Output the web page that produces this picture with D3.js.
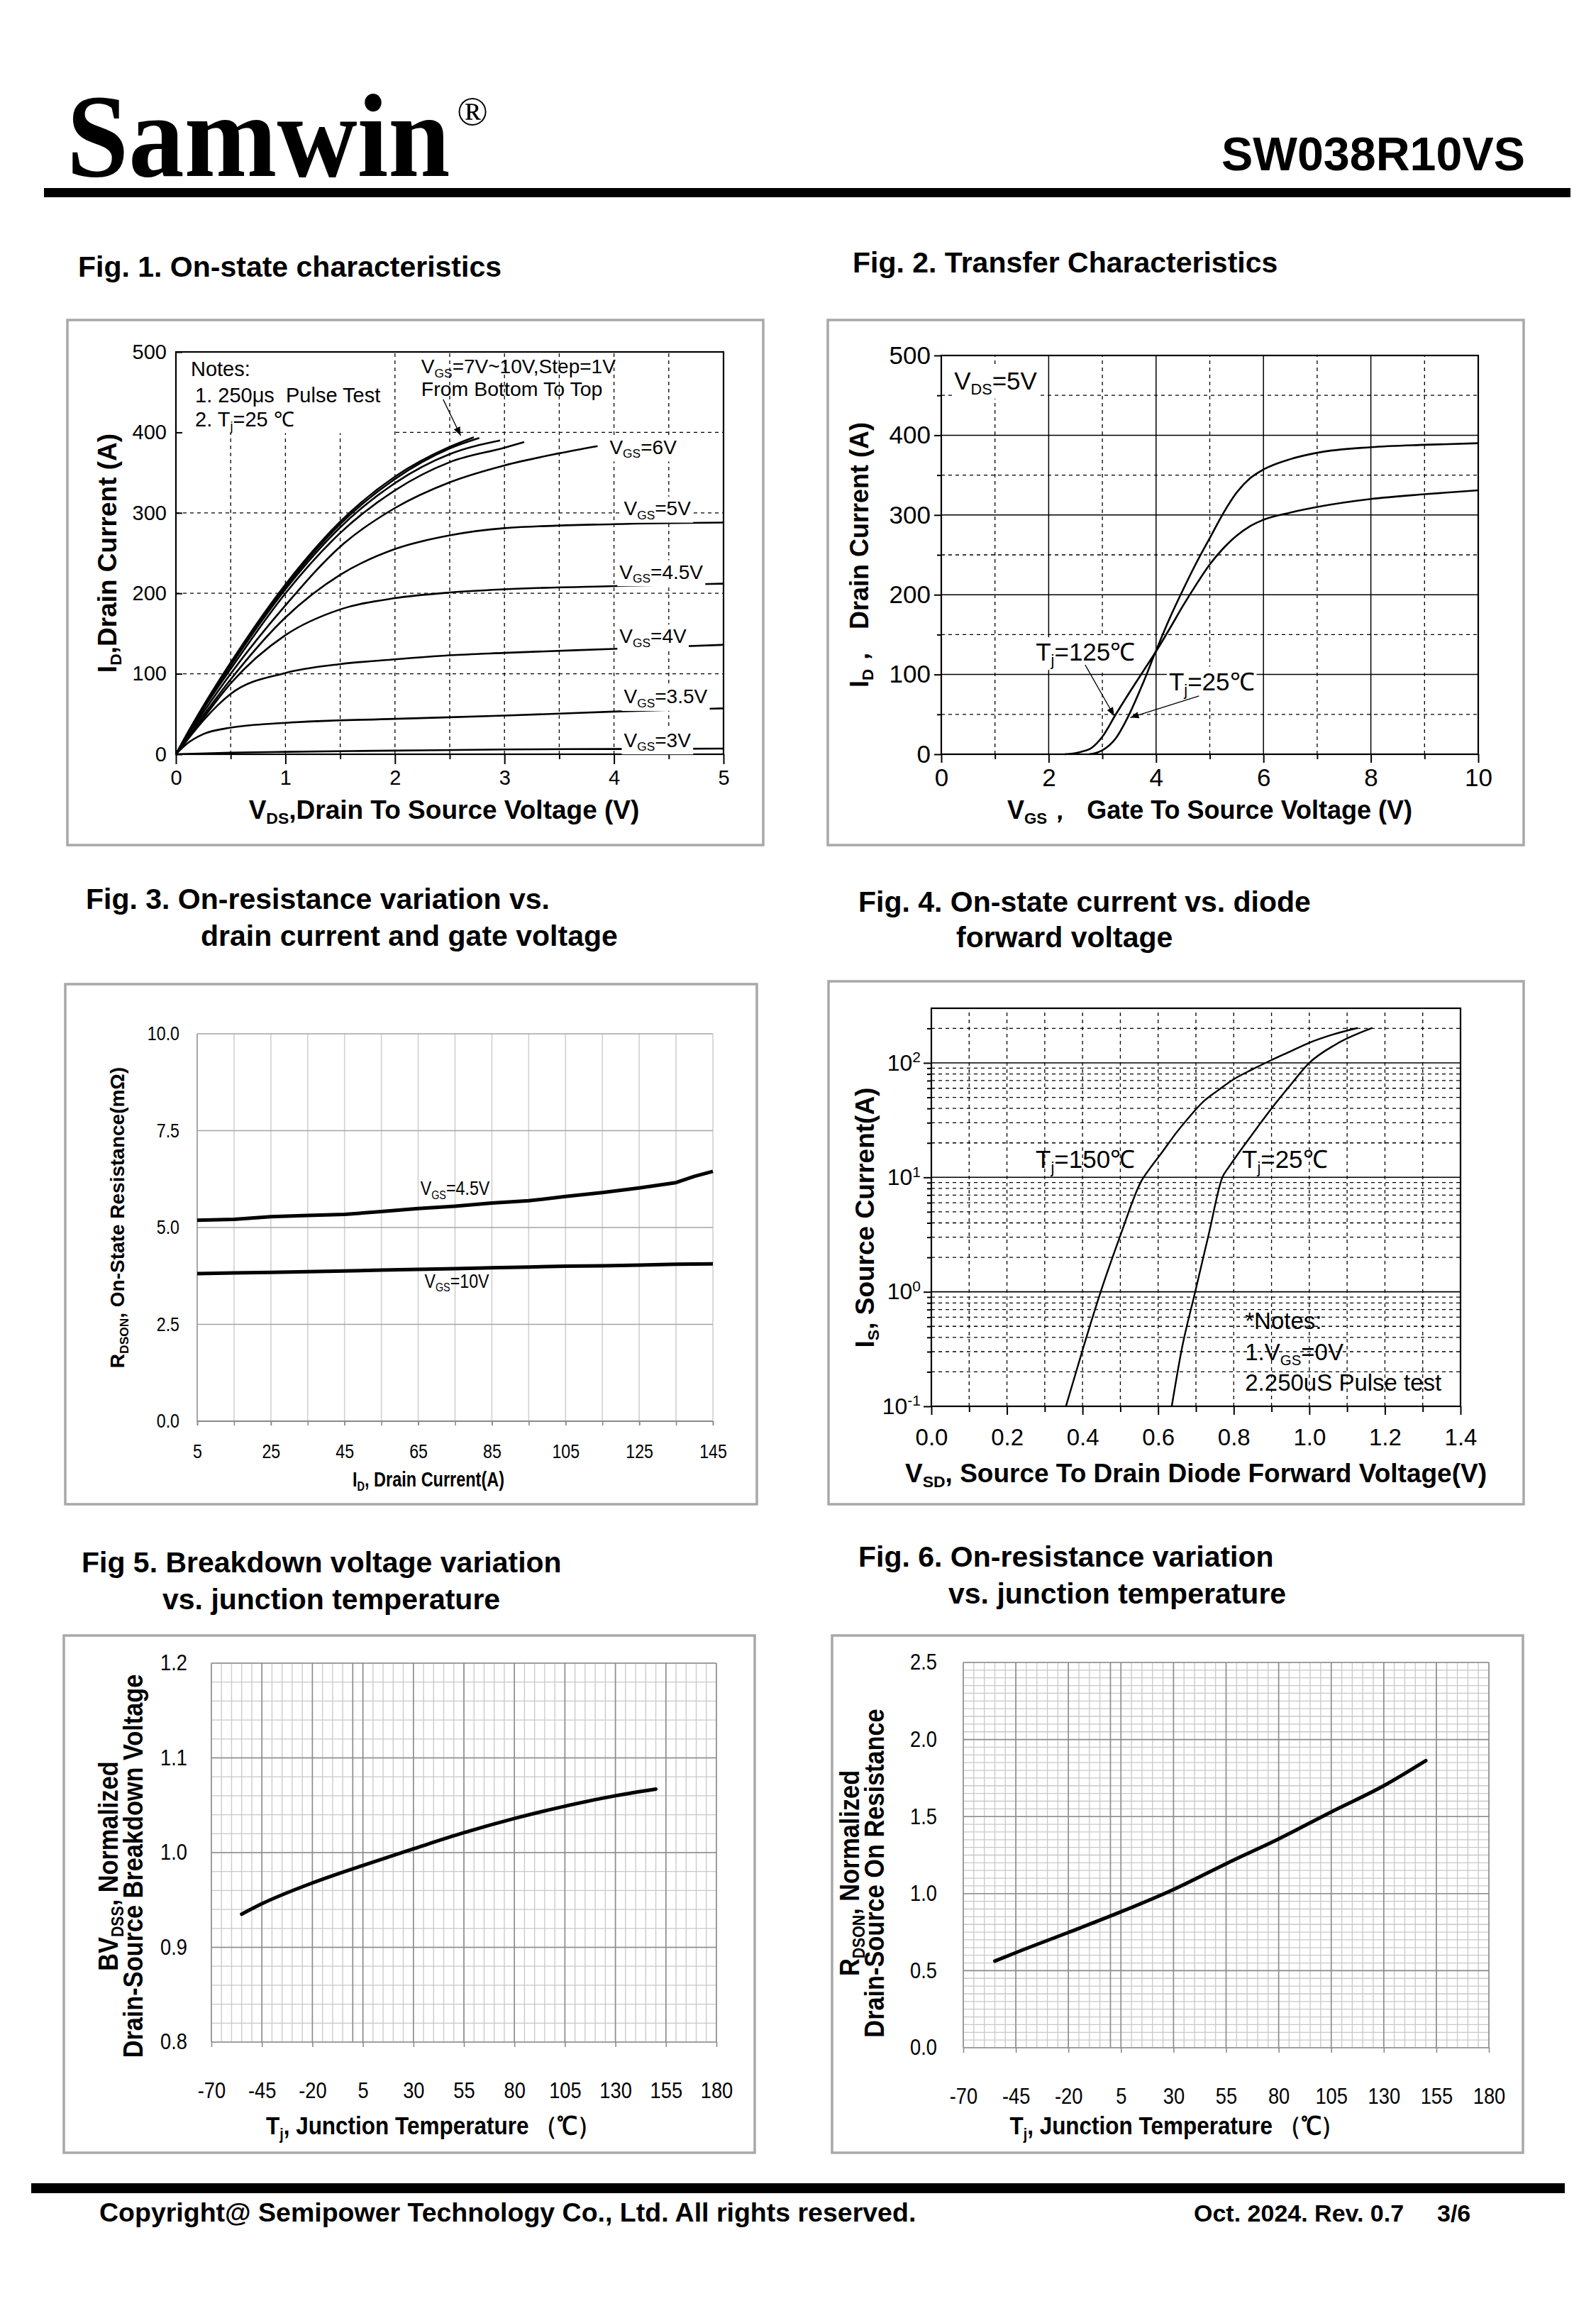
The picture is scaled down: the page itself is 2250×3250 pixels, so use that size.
<!DOCTYPE html>
<html>
<head>
<meta charset="utf-8">
<script src="https://cdn.jsdelivr.net/npm/d3@7/dist/d3.min.js"></script>
<style>
  body { margin: 0; background: #fff; }
  svg text { white-space: pre; }
</style>
</head>
<body>
<svg id="page" width="2250" height="3250"></svg>
<script>
const SANS = "'Liberation Sans', Arial, sans-serif";
const SERIF = "'Liberation Serif', 'Times New Roman', serif";

// Fig 1 - on-state characteristics, [Vds (V), Id (A)]
const fig1Vgs3 = [[0,0],[0.5,2],[1,3],[2,4.5],[3,6],[4,6.5],[5,7]];
const fig1Vgs35 = [[0,0],[0.1,13],[0.25,25],[0.5,33],[1,39],[2,44],[3,48],[4,53],[5,57]];
const fig1Vgs4 = [[0,0],[0.1,17],[0.25,42],[0.5,75],[1,101],[1.5,112],[2,118],[2.5,123],[3,126],[4,131],[5,136]];
const fig1Vgs45 = [[0,0],[0.1,19],[0.25,45],[0.5,88],[1,148],[1.5,180],[2,194],[2.5,201],[3,205],[4,209],[5,212]];
const fig1Vgs5 = [[0,0],[0.1,20],[0.25,48],[0.5,93],[1,170],[1.5,223],[2,255],[2.5,272],[3,281],[4,286],[5,288]];
const fig1Vgs6 = [[0,0],[0.1,22],[0.25,52],[0.5,100],[1,185],[1.5,258],[2,306],[2.5,338],[3,359],[3.5,374],[3.85,383]];
const fig1Vgs7 = [[0,0],[0.1,23],[0.25,56],[0.5,106],[1,200],[1.5,275],[2,328],[2.5,363],[3,381],[3.18,388]];
const fig1Vgs8 = [[0,0],[0.1,24],[0.25,58],[0.5,110],[1,205],[1.5,282],[2,337],[2.5,373],[2.96,390]];
const fig1Vgs9 = [[0,0],[0.1,24],[0.25,59],[0.5,112],[1,208],[1.5,286],[2,342],[2.5,380],[2.77,393]];
const fig1Vgs10 = [[0,0],[0.1,25],[0.25,60],[0.5,114],[1,211],[1.5,289],[2,345],[2.5,382],[2.72,394]];
const fig1XTicks = [0, 1, 2, 3, 4, 5];
const fig1YTicks = [0, 100, 200, 300, 400, 500];

// Fig 2 - transfer characteristics, [Vgs (V), Id (A)]
const fig2Tj25 = [[2.75,0],[2.9,2],[3,5],[3.25,20],[3.5,50],[3.75,88],[4,130],[4.25,170],[4.5,206],[4.75,240],[5,271],[5.25,302],[5.5,328],[5.75,346],[6,357],[6.5,370],[7,378],[8,385],[9,388],[10,390]];
const fig2Tj125 = [[2.3,0],[2.6,3],[2.8,8],[3,22],[3.25,50],[3.5,77],[3.75,103],[4,129],[4.25,157],[4.5,186],[4.75,213],[5,238],[5.25,258],[5.5,274],[5.75,286],[6,294],[6.5,303],[7,310],[8,320],[9,326],[10,331]];
const fig2XTicks = [0, 2, 4, 6, 8, 10];
const fig2YTicks = [0, 100, 200, 300, 400, 500];

// Fig 3 - Rds(on) vs drain current
const fig3Id = [5, 15, 25, 35, 45, 55, 65, 75, 85, 95, 105, 115, 125, 135, 140, 145];
const fig3Vgs45 = [5.19, 5.21, 5.28, 5.31, 5.34, 5.41, 5.49, 5.55, 5.63, 5.69, 5.80, 5.90, 6.02, 6.16, 6.32, 6.45];
const fig3Vgs10 = [3.81, 3.83, 3.84, 3.86, 3.88, 3.90, 3.92, 3.94, 3.96, 3.98, 4.00, 4.01, 4.03, 4.05, 4.055, 4.06];
const fig3XTicks = [5, 25, 45, 65, 85, 105, 125, 145];
const fig3YTicks = [0, 2.5, 5, 7.5, 10];

// Fig 4 - body diode, [Vsd (V), Is (A)]
const fig4Tj150 = [[0.356,0.1],[0.40,0.31],[0.448,1.0],[0.50,3.1],[0.555,9.2],[0.58,12.2],[0.61,16.5],[0.65,25],[0.68,33],[0.72,46],[0.76,58],[0.80,72],[0.85,88],[0.895,104],[0.95,126],[1.0,150],[1.06,176],[1.128,202]];
const fig4Tj25 = [[0.636,0.1],[0.662,0.31],[0.698,1.0],[0.734,3.2],[0.77,10],[0.787,12.3],[0.81,15.8],[0.85,24],[0.90,40],[0.95,64],[1.0,100],[1.07,145],[1.167,202]];
const fig4XTicks = [0, 0.2, 0.4, 0.6, 0.8, 1.0, 1.2, 1.4];
const fig4YTicks = [0.1, 1, 10, 100];

// Fig 5 / Fig 6 - vs junction temperature
const fig5Tj = [-55, -45, -20, 5, 30, 55, 80, 105, 130, 150];
const fig5Bv = [0.935, 0.946, 0.968, 0.9865, 1.004, 1.021, 1.036, 1.049, 1.060, 1.067];
const fig6Tj = [-55, -45, -20, 5, 30, 55, 80, 105, 130, 150];
const fig6Rds = [0.562, 0.617, 0.748, 0.882, 1.027, 1.194, 1.355, 1.53, 1.70, 1.863];
const tempTicks = [-70, -45, -20, 5, 30, 55, 80, 105, 130, 155, 180];
const fig5YTicks = [0.8, 0.9, 1.0, 1.1, 1.2];
const fig6YTicks = [0, 0.5, 1.0, 1.5, 2.0, 2.5];

const svg = d3.select("#page");
svg.append("rect").attr("width", 2250).attr("height", 3250).attr("fill", "#fff");

svg.append("defs").append("marker")
  .attr("id", "arrow").attr("viewBox", "0 0 10 10")
  .attr("refX", 10).attr("refY", 5)
  .attr("markerWidth", 18).attr("markerHeight", 12)
  .attr("markerUnits", "userSpaceOnUse").attr("orient", "auto")
  .append("path").attr("d", "M0,1 L10,5 L0,9 Z").attr("fill", "#000");

// text with sub/superscript parts; rot / sx put it in its own frame
function rich(parent, x, y, parts, size, opts = {}) {
  const t = parent.append("text")
    .attr("font-size", size)
    .attr("font-family", SANS)
    .attr("font-weight", opts.weight || "normal")
    .attr("text-anchor", opts.anchor || "start")
    .attr("fill", "#000");
  if (opts.rot || opts.sx) {
    t.attr("x", 0).attr("y", 0)
      .attr("transform", `translate(${x},${y})${opts.rot ? " rotate(-90)" : ""}${opts.sx ? ` scale(${opts.sx},1)` : ""}`);
  } else {
    t.attr("x", x).attr("y", y);
  }
  let shift = 0;
  parts.forEach(p => {
    const [s, kind] = Array.isArray(p) ? p : [p, null];
    const target = kind === "sub" ? size * 0.2 : kind === "sup" ? -size * 0.45 : 0;
    const ts = t.append("tspan").attr("dy", target - shift).text(s);
    if (kind) ts.attr("font-size", size * (opts.subScale || 0.62));
    shift = target;
  });
  return t;
}

function withBg(t, padX = 3, padY = 1) {
  const b = t.node().getBBox();
  d3.select(t.node().parentNode).insert("rect", () => t.node())
    .attr("x", b.x - padX).attr("y", b.y - padY)
    .attr("width", b.width + 2 * padX).attr("height", b.height + 2 * padY)
    .attr("fill", "#fff");
  return t;
}

function panel(x0, y0, x1, y1) {
  svg.append("rect").attr("x", x0).attr("y", y0)
    .attr("width", x1 - x0).attr("height", y1 - y0)
    .attr("fill", "none").attr("stroke", "#a8a8a8").attr("stroke-width", 3.5);
}

function title(x, y, s) {
  svg.append("text").attr("x", x).attr("y", y)
    .attr("font-family", SANS).attr("font-weight", "bold").attr("font-size", 41)
    .text(s);
}

function styleAxis(a, size, color = "#000", sw = 2) {
  a.select(".domain").remove();
  a.selectAll(".tick line").attr("stroke", color).attr("stroke-width", sw);
  a.selectAll(".tick text").attr("font-size", size).attr("font-family", SANS).attr("fill", "#000");
}

// narrow look of the Excel charts: squeeze tick labels horizontally
function squeezeTicks(a, s) {
  a.selectAll(".tick text").each(function () {
    const t = d3.select(this);
    const tx = +t.attr("x") || 0, ty = +t.attr("y") || 0;
    t.attr("x", 0).attr("y", 0).attr("transform", `translate(${tx},${ty}) scale(${s},1)`);
  });
}

function hLines(g, vals, x, y, x0, x1, stroke, w, dash) {
  g.append("g").selectAll("line").data(vals).join("line")
    .attr("x1", x(x0)).attr("x2", x(x1))
    .attr("y1", d => y(d)).attr("y2", d => y(d))
    .attr("stroke", stroke).attr("stroke-width", w)
    .attr("stroke-dasharray", dash || null);
}
function vLines(g, vals, x, y, y0, y1, stroke, w, dash) {
  g.append("g").selectAll("line").data(vals).join("line")
    .attr("x1", d => x(d)).attr("x2", d => x(d))
    .attr("y1", y(y0)).attr("y2", y(y1))
    .attr("stroke", stroke).attr("stroke-width", w)
    .attr("stroke-dasharray", dash || null);
}

// ---------- header ----------
svg.append("text").attr("transform", "translate(94,248) scale(0.934,1)")
  .attr("font-family", SERIF).attr("font-weight", "bold").attr("font-size", 168)
  .text("Samwin");
svg.append("text").attr("x", 644).attr("y", 176)
  .attr("font-family", SERIF).attr("font-size", 58).text("®");
svg.append("text").attr("x", 2150).attr("y", 240)
  .attr("font-family", SANS).attr("font-weight", "bold").attr("font-size", 66)
  .attr("text-anchor", "end").attr("textLength", 428).attr("lengthAdjust", "spacingAndGlyphs")
  .text("SW038R10VS");
svg.append("rect").attr("x", 62).attr("y", 265).attr("width", 2152).attr("height", 13).attr("fill", "#000");

// ---------- titles ----------
title(110, 390, "Fig. 1. On-state characteristics");
title(1202, 384, "Fig. 2. Transfer Characteristics");
title(121, 1281, "Fig. 3. On-resistance variation vs.");
title(283, 1333, "drain current and gate voltage");
title(1210, 1285, "Fig. 4. On-state current vs. diode");
title(1348, 1335, "forward voltage");
title(115, 2216, "Fig 5. Breakdown voltage variation");
title(229, 2268, "vs. junction temperature");
title(1210, 2208, "Fig. 6. On-resistance variation");
title(1337, 2260, "vs. junction temperature");

// ---------- Fig 1 ----------
(function () {
  panel(95, 451, 1076, 1191);
  const g = svg.append("g");
  const x = d3.scaleLinear().domain([0, 5]).range([248, 1020]);
  const y = d3.scaleLinear().domain([0, 500]).range([1063, 496]);

  vLines(g, d3.range(0.5, 5, 0.5), x, y, 0, 500, "#000", 1.3, "5,5");
  hLines(g, [100, 200, 300, 400], x, y, 0, 5, "#000", 1.3, "5,5");
  // notes area blanks the grid
  g.append("rect").attr("x", x(0) + 1).attr("y", y(500) + 1)
    .attr("width", x(2) - x(0) - 2).attr("height", y(400) - y(500))
    .attr("fill", "#fff");

  const ax = g.append("g").attr("transform", `translate(0,${y(0)})`);
  ax.call(d3.axisBottom(x).tickValues(d3.range(0.5, 5, 1)).tickSize(7).tickFormat(""));
  styleAxis(ax, 29);
  const ax2 = g.append("g").attr("transform", `translate(0,${y(0)})`);
  ax2.call(d3.axisBottom(x).tickValues(fig1XTicks).tickSize(14).tickPadding(8).tickFormat(d3.format("d")));
  styleAxis(ax2, 29);
  const ay = g.append("g").attr("transform", `translate(${x(0)},0)`);
  ay.call(d3.axisLeft(y).tickValues(fig1YTicks).tickSizeInner(-9).tickSizeOuter(0).tickPadding(13));
  styleAxis(ay, 29);

  const line = d3.line().x(d => x(d[0])).y(d => y(d[1])).curve(d3.curveMonotoneX);
  g.append("g").selectAll("path")
    .data([fig1Vgs3, fig1Vgs35, fig1Vgs4, fig1Vgs45, fig1Vgs5, fig1Vgs6, fig1Vgs7, fig1Vgs8, fig1Vgs9, fig1Vgs10])
    .join("path").attr("d", line)
    .attr("fill", "none").attr("stroke", "#000").attr("stroke-width", 2.6);

  g.append("rect").attr("x", x(0)).attr("y", y(500))
    .attr("width", x(5) - x(0)).attr("height", y(0) - y(500))
    .attr("fill", "none").attr("stroke", "#000").attr("stroke-width", 2.2);

  const lab = (v, i, rest) => withBg(rich(g, x(v), y(i) + 10, ["V", ["GS", "sub"], rest], 28));
  lab(3.96, 382, "=6V");
  lab(4.09, 306, "=5V");
  lab(4.05, 227, "=4.5V");
  lab(4.05, 147, "=4V");
  lab(4.09, 72, "=3.5V");
  lab(4.09, 18, "=3V");

  rich(g, x(0.136), y(479) + 10, ["Notes:"], 29);
  rich(g, x(0.175), y(446) + 10, ["1. 250μs  Pulse Test"], 29);
  rich(g, x(0.175), y(416) + 10, ["2. T", ["j", "sub"], "=25 ℃"], 29);
  rich(g, x(2.24), y(482) + 10, ["V", ["GS", "sub"], "=7V~10V,Step=1V"], 28);
  rich(g, x(2.24), y(454) + 10, ["From Bottom To Top"], 28.5);
  g.append("line").attr("x1", x(2.44)).attr("y1", y(441)).attr("x2", x(2.6)).attr("y2", y(396))
    .attr("stroke", "#000").attr("stroke-width", 1.3).attr("marker-end", "url(#arrow)");

  rich(g, 164, (y(0) + y(500)) / 2, ["I", ["D", "sub"], ",Drain Current (A)"], 37,
    { weight: "bold", anchor: "middle", rot: true });
  rich(g, (x(0) + x(5)) / 2 - 8, 1154, ["V", ["DS", "sub"], ",Drain To Source Voltage (V)"], 37,
    { weight: "bold", anchor: "middle" });
})();

// ---------- Fig 2 ----------
(function () {
  panel(1167, 451, 2148, 1191);
  const g = svg.append("g");
  const x = d3.scaleLinear().domain([0, 10]).range([1327, 2084]);
  const y = d3.scaleLinear().domain([0, 500]).range([1063, 501]);

  vLines(g, [1, 3, 5, 7, 9], x, y, 0, 500, "#000", 1.3, "5,5");
  hLines(g, [50, 150, 250, 350, 450], x, y, 0, 10, "#000", 1.3, "5,5");
  vLines(g, [2, 4, 6, 8], x, y, 0, 500, "#000", 1.5);
  hLines(g, [100, 200, 300, 400], x, y, 0, 10, "#000", 1.5);

  const ax = g.append("g").attr("transform", `translate(0,${y(0)})`);
  ax.call(d3.axisBottom(x).tickValues([1, 3, 5, 7, 9]).tickSize(7).tickFormat(""));
  styleAxis(ax, 35);
  const ax2 = g.append("g").attr("transform", `translate(0,${y(0)})`);
  ax2.call(d3.axisBottom(x).tickValues(fig2XTicks).tickSize(12).tickPadding(8).tickFormat(d3.format("d")));
  styleAxis(ax2, 35);
  const ay = g.append("g").attr("transform", `translate(${x(0)},0)`);
  ay.call(d3.axisLeft(y).tickValues([50, 150, 250, 350, 450]).tickSize(6).tickFormat(""));
  styleAxis(ay, 35);
  const ay2 = g.append("g").attr("transform", `translate(${x(0)},0)`);
  ay2.call(d3.axisLeft(y).tickValues(fig2YTicks).tickSize(10).tickPadding(5));
  styleAxis(ay2, 35);

  const line = d3.line().x(d => x(d[0])).y(d => y(d[1])).curve(d3.curveMonotoneX);
  g.append("g").selectAll("path").data([fig2Tj25, fig2Tj125]).join("path")
    .attr("d", line).attr("fill", "none").attr("stroke", "#000").attr("stroke-width", 2.6);

  g.append("rect").attr("x", x(0)).attr("y", y(500))
    .attr("width", x(10) - x(0)).attr("height", y(0) - y(500))
    .attr("fill", "none").attr("stroke", "#000").attr("stroke-width", 2.2);

  withBg(rich(g, x(0.24), y(468) + 12, ["V", ["DS", "sub"], "=5V"], 35));
  withBg(rich(g, x(1.76), y(128) + 12, ["T", ["j", "sub"], "=125℃"], 35));
  withBg(rich(g, x(4.24), y(91) + 12, ["T", ["j", "sub"], "=25℃"], 35));
  g.append("line").attr("x1", x(2.68)).attr("y1", y(112)).attr("x2", x(3.22)).attr("y2", y(48))
    .attr("stroke", "#000").attr("stroke-width", 1.3).attr("marker-end", "url(#arrow)");
  g.append("line").attr("x1", x(4.8)).attr("y1", y(73)).attr("x2", x(3.52)).attr("y2", y(46))
    .attr("stroke", "#000").attr("stroke-width", 1.3).attr("marker-end", "url(#arrow)");

  rich(g, 1224, (y(0) + y(500)) / 2, ["I", ["D", "sub"], "，  Drain Current (A)"], 36,
    { weight: "bold", anchor: "middle", rot: true });
  rich(g, (x(0) + x(10)) / 2, 1154, ["V", ["GS", "sub"], "，  Gate To Source Voltage (V)"], 36,
    { weight: "bold", anchor: "middle" });
})();

// ---------- Fig 3 ----------
(function () {
  panel(92, 1387, 1067, 2120);
  const g = svg.append("g");
  const x = d3.scaleLinear().domain([5, 145]).range([278, 1005]);
  const y = d3.scaleLinear().domain([0, 10]).range([2003, 1457]);

  vLines(g, d3.range(5, 146, 10), x, y, 0, 10, "#d0d0d0", 1.6);
  hLines(g, fig3YTicks, x, y, 5, 145, "#a4a4a4", 1.6);
  g.append("line").attr("x1", x(5)).attr("x2", x(5)).attr("y1", y(0)).attr("y2", y(10))
    .attr("stroke", "#9a9a9a").attr("stroke-width", 1.6);
  g.append("line").attr("x1", x(5)).attr("x2", x(145)).attr("y1", y(0)).attr("y2", y(0))
    .attr("stroke", "#8a8a8a").attr("stroke-width", 1.8);

  const ax = g.append("g").attr("transform", `translate(0,${y(0)})`);
  ax.call(d3.axisBottom(x).tickValues(d3.range(5, 146, 10)).tickSize(6).tickFormat(""));
  styleAxis(ax, 27, "#8a8a8a", 1.6);
  const ax2 = g.append("g").attr("transform", `translate(0,${y(0)})`);
  ax2.call(d3.axisBottom(x).tickValues(fig3XTicks).tickSize(6).tickPadding(27).tickFormat(d3.format("d")));
  styleAxis(ax2, 27, "#8a8a8a", 1.6);
  squeezeTicks(ax2, 0.86);
  const ay = g.append("g").attr("transform", `translate(${x(5)},0)`);
  ay.call(d3.axisLeft(y).tickValues(fig3YTicks).tickSize(0).tickPadding(25).tickFormat(d3.format(".1f")));
  styleAxis(ay, 27);
  squeezeTicks(ay, 0.86);

  const line = d3.line().x((d, i) => x(fig3Id[i])).y(d => y(d));
  g.append("g").selectAll("path").data([fig3Vgs45, fig3Vgs10]).join("path")
    .attr("d", line).attr("fill", "none").attr("stroke", "#000").attr("stroke-width", 5)
    .attr("stroke-linejoin", "round");

  rich(g, x(65.6), y(6.0) + 9, ["V", ["GS", "sub"], "=4.5V"], 27, { sx: 0.86 });
  rich(g, x(66.7), y(3.61) + 9, ["V", ["GS", "sub"], "=10V"], 27, { sx: 0.86 });

  rich(g, 175, 1716, ["R", ["DSON", "sub"], ", On-State Resistance(mΩ)"], 28,
    { weight: "bold", anchor: "middle", rot: true });
  rich(g, 604, 2095, ["I", ["D", "sub"], ", Drain Current(A)"], 29,
    { weight: "bold", anchor: "middle", sx: 0.81 });
})();

// ---------- Fig 4 ----------
(function () {
  panel(1168, 1383, 2148, 2120);
  const g = svg.append("g");
  const x = d3.scaleLinear().domain([0, 1.4]).range([1313, 2059]);
  const y = d3.scaleLog().domain([0.1, 300]).range([1982, 1421]);

  const minorY = [];
  [0.1, 1, 10].forEach(dec => d3.range(2, 10).forEach(k => minorY.push(k * dec)));
  minorY.push(200);
  vLines(g, d3.range(1, 14).map(d => d / 10), x, y, 0.1, 300, "#000", 1.3, "5,5");
  hLines(g, minorY, x, y, 0, 1.4, "#000", 1.3, "5,5");
  hLines(g, [1, 10, 100], x, y, 0, 1.4, "#000", 1.6);

  const ax = g.append("g").attr("transform", `translate(0,${y(0.1)})`);
  ax.call(d3.axisBottom(x).tickValues(d3.range(1, 14, 2).map(d => d / 10)).tickSize(8).tickFormat(""));
  styleAxis(ax, 33);
  const ax2 = g.append("g").attr("transform", `translate(0,${y(0.1)})`);
  ax2.call(d3.axisBottom(x).tickValues(fig4XTicks).tickSize(12).tickPadding(20).tickFormat(d3.format(".1f")));
  styleAxis(ax2, 33);
  const ay = g.append("g").attr("transform", `translate(${x(0)},0)`);
  ay.call(d3.axisLeft(y).tickValues(minorY).tickSize(6).tickFormat(""));
  styleAxis(ay, 32);
  const ay2 = g.append("g").attr("transform", `translate(${x(0)},0)`);
  ay2.call(d3.axisLeft(y).tickValues(fig4YTicks).tickSize(11).tickPadding(4).tickFormat(""));
  styleAxis(ay2, 32);
  ay2.selectAll(".tick text").each(function (d) {
    const t = d3.select(this);
    t.append("tspan").text("10");
    t.append("tspan").attr("dy", "-0.55em").attr("font-size", 21).text(Math.round(Math.log10(d)));
  });

  const line = d3.line().x(d => x(d[0])).y(d => y(d[1])).curve(d3.curveMonotoneX);
  g.append("g").selectAll("path").data([fig4Tj150, fig4Tj25]).join("path")
    .attr("d", line).attr("fill", "none").attr("stroke", "#000").attr("stroke-width", 2.4);

  g.append("rect").attr("x", x(0)).attr("y", y(300))
    .attr("width", x(1.4) - x(0)).attr("height", y(0.1) - y(300))
    .attr("fill", "none").attr("stroke", "#000").attr("stroke-width", 2.2);

  rich(g, x(0.276), y(14.3) + 12, ["T", ["j", "sub"], "=150℃"], 35);
  rich(g, x(0.822), y(14.3) + 12, ["T", ["j", "sub"], "=25℃"], 35);
  rich(g, x(0.83), y(0.56) + 12, ["*Notes:"], 33);
  rich(g, x(0.83), y(0.30) + 12, ["1.V", ["GS", "sub"], "=0V"], 33);
  rich(g, x(0.83), y(0.163) + 12, ["2.250uS Pulse test"], 33);

  rich(g, 1232, 1716, ["I", ["S", "sub"], ", Source Current(A)"], 37,
    { weight: "bold", anchor: "middle", rot: true });
  rich(g, 1686, 2089, ["V", ["SD", "sub"], ", Source To Drain Diode Forward Voltage(V)"], 37,
    { weight: "bold", anchor: "middle" });
})();

// ---------- Fig 5 / Fig 6 ----------
function tempChart(box, xr, yr, ydom, minorStep, yTicks, tj, vals, labX, labY, lab1, lab2, xLabShift, xLabY, tickY) {
  panel(...box);
  const g = svg.append("g");
  const x = d3.scaleLinear().domain([-70, 180]).range(xr);
  const y = d3.scaleLinear().domain(ydom).range(yr);
  const nMinor = Math.round((ydom[1] - ydom[0]) / minorStep);
  vLines(g, d3.range(-70, 181, 5), x, y, ydom[0], ydom[1], "#c8c8c8", 1.3);
  hLines(g, d3.range(0, nMinor + 1).map(i => ydom[0] + i * minorStep), x, y, -70, 180, "#c8c8c8", 1.3);
  vLines(g, tempTicks.concat([0]), x, y, ydom[0], ydom[1], "#8c8c8c", 1.6);
  hLines(g, yTicks, x, y, -70, 180, "#8c8c8c", 1.6);

  const ax = g.append("g").attr("transform", `translate(0,${y(ydom[0])})`);
  ax.call(d3.axisBottom(x).tickValues(tempTicks).tickSize(7).tickPadding(tickY - 7 - 11).tickFormat(d => String(d)));
  styleAxis(ax, 31, "#8c8c8c", 1.6);
  squeezeTicks(ax, 0.88);
  const ay = g.append("g").attr("transform", `translate(${x(-70)},0)`);
  ay.call(d3.axisLeft(y).tickValues(yTicks).tickSize(0).tickPadding(xr[0] - labX).tickFormat(d3.format(".1f")));
  styleAxis(ay, 31);
  squeezeTicks(ay, 0.88);

  const line = d3.line().x((d, i) => x(tj[i])).y(d => y(d)).curve(d3.curveMonotoneX);
  g.append("path").datum(vals).attr("d", line)
    .attr("fill", "none").attr("stroke", "#000").attr("stroke-width", 5).attr("stroke-linecap", "round");

  rich(g, labY[0], labY[2], lab1, 39, { weight: "bold", anchor: "middle", rot: true, sx: 0.88 });
  rich(g, labY[1], labY[2], lab2, 39, { weight: "bold", anchor: "middle", rot: true, sx: 0.88 });
  rich(g, (xr[0] + xr[1]) / 2 + xLabShift, xLabY, ["T", ["j", "sub"], ", Junction Temperature （℃）"], 35,
    { weight: "bold", anchor: "middle", sx: 0.9 });
}

tempChart([90, 2305, 1064, 3034], [298, 1010], [2878, 2344], [0.8, 1.2], 0.02, fig5YTicks,
  fig5Tj, fig5Bv, 264, [166, 201, 2630],
  ["BV", ["DSS", "sub"], ", Normalized"], ["Drain-Source Breakdown Voltage"], -44, 3008, 68);

tempChart([1173, 2305, 2147, 3034], [1358, 2099], [2886, 2343], [0, 2.5], 0.05, fig6YTicks,
  fig6Tj, fig6Rds, 1321, [1211, 1246, 2640],
  ["R", ["DSON", "sub"], ", Normalized"], ["Drain-Source On Resistance"], -70, 3008, 68);

// ---------- footer ----------
svg.append("rect").attr("x", 44).attr("y", 3077).attr("width", 2162).attr("height", 14).attr("fill", "#000");
svg.append("text").attr("x", 140).attr("y", 3131)
  .attr("font-family", SANS).attr("font-weight", "bold").attr("font-size", 37.5)
  .text("Copyright@ Semipower Technology Co., Ltd. All rights reserved.");
svg.append("text").attr("x", 1683).attr("y", 3131)
  .attr("font-family", SANS).attr("font-weight", "bold").attr("font-size", 34)
  .text("Oct. 2024. Rev. 0.7");
svg.append("text").attr("x", 2026).attr("y", 3131)
  .attr("font-family", SANS).attr("font-weight", "bold").attr("font-size", 34)
  .text("3/6");
</script>
</body>
</html>
